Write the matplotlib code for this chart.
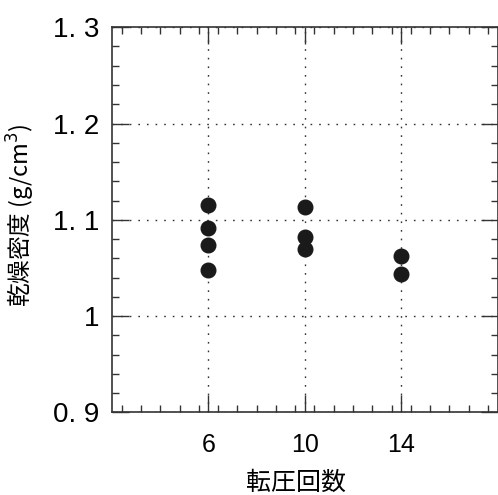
import matplotlib
matplotlib.use("Agg")
import matplotlib.pyplot as plt
from matplotlib.ticker import MultipleLocator

# ==== Data ==== #
passes_6 = [6, 6, 6, 6]
density_6 = [1.115, 1.091, 1.074, 1.048]
passes_10 = [10, 10, 10]
density_10 = [1.113, 1.082, 1.070]
passes_14 = [14, 14]
density_14 = [1.062, 1.044]

x_ticks = [6, 10, 14]
y_ticks = [0.9, 1.0, 1.1, 1.2, 1.3]
y_tick_labels = ["0. 9", "1", "1. 1", "1. 2", "1. 3"]

# ==== Fonts ==== #
plt.rcParams['font.family'] = ['Liberation Sans', 'Noto Sans CJK JP', 'DejaVu Sans']
jp_font = ['Noto Sans CJK JP', 'DejaVu Sans']

fig = plt.figure(figsize=(4.98, 4.95), dpi=100)
ax = fig.add_axes([0.225, 0.167, 0.774, 0.778])

for xs, ys in [(passes_6, density_6), (passes_10, density_10), (passes_14, density_14)]:
    ax.plot(xs, ys, 'o', color='#1a1a1a', markersize=10.5, zorder=3)

ax.set_xlim(2, 18)
ax.set_ylim(0.9, 1.3)
ax.set_xticks(x_ticks)
ax.set_xticklabels([str(v) for v in x_ticks], fontsize=18)
ax.set_yticks(y_ticks)
ax.set_yticklabels(y_tick_labels, fontsize=20)
ax.xaxis.set_minor_locator(MultipleLocator(0.8))
ax.yaxis.set_minor_locator(MultipleLocator(0.02))

ax.tick_params(which='both', direction='in', top=True, right=True, width=1.0, color='#333333')
ax.tick_params(which='major', length=12)
ax.tick_params(which='minor', length=5)
ax.tick_params(axis='x', which='major', pad=15)
ax.tick_params(axis='y', which='major', pad=9)

ax.grid(True, which='major', color='#333333', linestyle=(0, (1.2, 5)), linewidth=1.0)
for s in ax.spines.values():
    s.set_linewidth(1.2)
    s.set_color('#333333')

ax.set_xlabel('転圧回数', fontsize=18, family=jp_font, va='center')
ax.xaxis.set_label_coords(0.478, -0.183)
ax.set_ylabel('乾燥密度 (g/cm$^3$)', fontsize=17, family=jp_font, va='center')
ax.yaxis.set_label_coords(-0.236, 0.512)

fig.savefig('out.png', dpi=100)
